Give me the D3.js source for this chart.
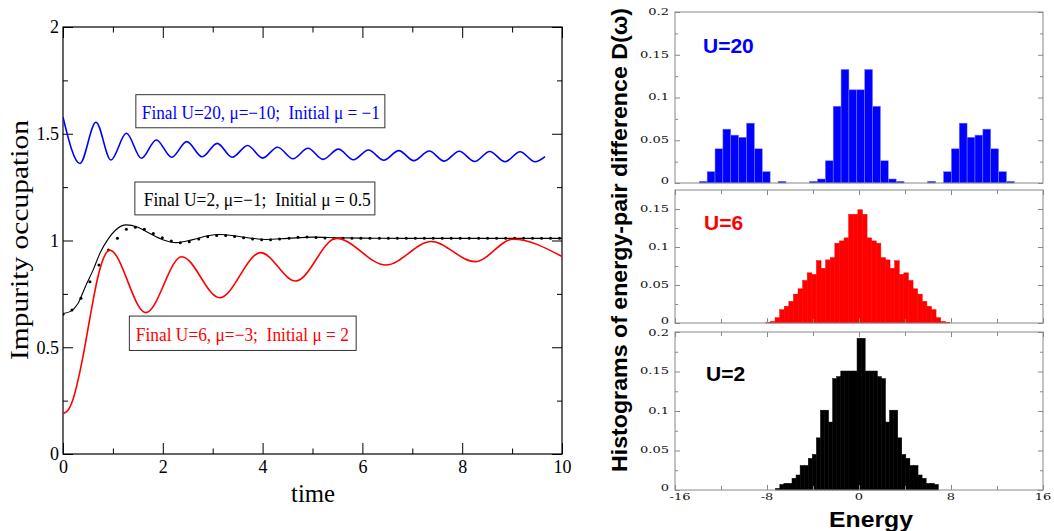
<!DOCTYPE html>
<html><head><meta charset="utf-8">
<script src="https://cdn.jsdelivr.net/npm/d3@7"></script>
<style>body{margin:0;background:#fff} svg{display:block}</style>
</head><body>
<svg id="c" width="1054" height="531"></svg>
<script>
// ================= DATA =================
// Left panel: impurity occupation vs time
const timeTicksMajor = [0, 2, 4, 6, 8, 10];
const timeTicksMinor = [1, 3, 5, 7, 9];
const occTicksMajor = [0, 0.5, 1, 1.5, 2];
const occTicksMinor = [0.25, 0.75, 1.25, 1.75];

const blueCurve = [[0,1.578],[0.34,1.361],[0.66,1.554],[0.96,1.377],[1.27,1.502],[1.57,1.385],[1.87,1.471],[2.18,1.390],[2.48,1.463],[2.79,1.392],[3.09,1.455],[3.39,1.390],[3.70,1.445],[4.00,1.386],[4.30,1.437],[4.61,1.383],[4.91,1.432],[5.21,1.380],[5.52,1.428],[5.82,1.378],[6.12,1.424],[6.43,1.376],[6.73,1.421],[7.03,1.374],[7.34,1.419],[7.64,1.372],[7.94,1.418],[8.25,1.370],[8.55,1.417],[8.86,1.369],[9.16,1.416],[9.46,1.369],[9.66,1.393]];

const blackCurve = [[0,0.658],[0.15,0.668],[0.3,0.705],[0.45,0.785],[0.6,0.86],[0.75,0.945],[0.9,1.005],[1.05,1.048],[1.27,1.073],[1.5,1.062],[1.75,1.032],[2.0,1.004],[2.27,0.990],[2.6,1.004],[2.9,1.022],[3.14,1.028],[3.5,1.020],[3.8,1.010],[4.07,1.005],[4.5,1.010],[5.0,1.016],[5.5,1.013],[6.0,1.011],[7,1.010],[8,1.010],[9,1.010],[10,1.010]];

const dotTimes = [0,0.18,0.36,0.54,0.72,0.91,1.09,1.27,1.45,1.63,1.81,1.99,2.17,2.35,2.53,2.72,2.90,3.08,3.26,3.44,3.62,3.80,3.98,4.16,4.34,4.53,4.71,4.89,5.07,5.25,5.43,5.61,5.79,5.97,6.15,6.34,6.52,6.70,6.88,7.06,7.24,7.42,7.60,7.78,7.96,8.14,8.33,8.51,8.69,8.87,9.05,9.23,9.41,9.59,9.77,9.95];
const dotValues = [0.655,0.674,0.729,0.807,0.885,0.955,1.010,1.053,1.062,1.053,1.033,1.013,0.998,0.990,0.994,1.007,1.018,1.024,1.024,1.019,1.013,1.007,1.004,1.004,1.007,1.011,1.015,1.016,1.014,1.012,1.011,1.011,1.011,1.011,1.011,1.011,1.011,1.011,1.011,1.011,1.011,1.011,1.011,1.011,1.011,1.011,1.011,1.011,1.011,1.011,1.011,1.011,1.011,1.011,1.011,1.011];

const redCurve = [[0,0.19],[0.1,0.205],[0.2,0.255],[0.3,0.345],[0.4,0.456],[0.5,0.585],[0.6,0.715],[0.7,0.83],[0.8,0.91],[0.935,0.955],[1.66,0.662],[2.38,0.924],[3.14,0.732],[3.96,0.943],[4.66,0.810],[5.48,1.010],[6.47,0.885],[7.38,0.995],[8.26,0.901],[9.02,1.006],[10,0.925]];

const legendTexts = ["Final U=20, \u03bc=\u221210;  Initial \u03bc = \u22121",
                     "Final U=2, \u03bc=\u22121;  Initial \u03bc = 0.5",
                     "Final U=6, \u03bc=\u22123;  Initial \u03bc = 2"];

// Right panels: histograms
const energyTicksMajor = [-16, -8, 0, 8, 16];
const energyTicksMinor = [-12, -4, 4, 12];
const histTicksMajor = [0, 0.05, 0.1, 0.15, 0.2];
const histTicksMinor = [0.025, 0.075, 0.125, 0.175];

const blueBinStart = -13.89, blueBinWidth = 0.685;
const blueHist = [0.002,0.0133,0.040,0.063,0.056,0.0535,0.070,0.040,0.0133,0,0.002,0,0,0,0.002,0.0047,0.026,0.0898,0.1328,0.109,0.109,0.1328,0.0898,0.026,0.0047,0.002,0,0,0,0.002,0,0.0133,0.040,0.070,0.0535,0.056,0.063,0.040,0.0133,0.002];

const redBinStart = -8.1, redBinWidth = 0.4;
const redHist = [0.001,0.002,0.007,0.0175,0.022,0.0285,0.038,0.045,0.056,0.066,0.064,0.082,0.072,0.083,0.086,0.105,0.108,0.112,0.143,0.143,0.149,0.143,0.112,0.108,0.105,0.086,0.083,0.072,0.082,0.064,0.066,0.056,0.045,0.038,0.0285,0.022,0.0175,0.007,0.002,0.001];

const blackBinStart = -7.24, blackBinWidth = 0.3535;
const blackHist = [0.002,0.007,0.0084,0.0084,0.0148,0.019,0.031,0.031,0.040,0.045,0.066,0.101,0.101,0.086,0.141,0.1435,0.1506,0.1506,0.1506,0.1506,0.192,0.192,0.1506,0.1506,0.1506,0.1435,0.141,0.086,0.101,0.101,0.066,0.045,0.040,0.031,0.031,0.019,0.0148,0.0084,0.0084,0.007];

// ================= DRAW =================
const svg = d3.select("#c");

// ---------- left panel ----------
const xL = d3.scaleLinear().domain([0, 10]).range([63, 562]);
const yL = d3.scaleLinear().domain([0, 2]).range([454, 27]);
const serif = "'Liberation Serif','Times New Roman',serif";
const sans = "'Liberation Sans',Arial,sans-serif";

const gL = svg.append("g");
gL.append("defs").append("clipPath").attr("id","clipL").append("rect")
  .attr("x", xL(0)).attr("y", yL(2)).attr("width", xL(10)-xL(0)).attr("height", yL(0)-yL(2));

function styleAxis(g, col, fsize, fam) {
  g.select(".domain").remove();
  g.selectAll(".tick line").attr("stroke", col).attr("stroke-width", 1);
  g.selectAll(".tick text").attr("fill", "#000").style("font-family", fam).style("font-size", fsize + "px");
}
styleAxis(gL.append("g").attr("transform", `translate(0,${yL(0)})`)
  .call(d3.axisBottom(xL).tickValues(timeTicksMajor).tickSize(-11).tickSizeOuter(0).tickPadding(6).tickFormat(d3.format("d"))), "#000", 18, serif);
styleAxis(gL.append("g").attr("transform", `translate(0,${yL(0)})`)
  .call(d3.axisBottom(xL).tickValues(timeTicksMinor).tickSize(-5.5).tickSizeOuter(0).tickFormat("")), "#000", 18, serif);
styleAxis(gL.append("g").attr("transform", `translate(0,${yL(2)})`)
  .call(d3.axisTop(xL).tickValues(timeTicksMajor).tickSize(-11).tickSizeOuter(0).tickFormat("")), "#000", 18, serif);
styleAxis(gL.append("g").attr("transform", `translate(0,${yL(2)})`)
  .call(d3.axisTop(xL).tickValues(timeTicksMinor).tickSize(-5.5).tickSizeOuter(0).tickFormat("")), "#000", 18, serif);
styleAxis(gL.append("g").attr("transform", `translate(${xL(0)},0)`)
  .call(d3.axisLeft(yL).tickValues(occTicksMajor).tickSize(-10).tickSizeOuter(0).tickPadding(4).tickFormat(d => String(d))), "#000", 18, serif);
styleAxis(gL.append("g").attr("transform", `translate(${xL(0)},0)`)
  .call(d3.axisLeft(yL).tickValues(occTicksMinor).tickSize(-5).tickSizeOuter(0).tickFormat("")), "#000", 18, serif);
styleAxis(gL.append("g").attr("transform", `translate(${xL(10)},0)`)
  .call(d3.axisRight(yL).tickValues(occTicksMajor).tickSize(-10).tickSizeOuter(0).tickFormat("")), "#000", 18, serif);
styleAxis(gL.append("g").attr("transform", `translate(${xL(10)},0)`)
  .call(d3.axisRight(yL).tickValues(occTicksMinor).tickSize(-5).tickSizeOuter(0).tickFormat("")), "#000", 18, serif);

gL.append("rect").attr("x", xL(0)).attr("y", yL(2)).attr("width", xL(10)-xL(0)).attr("height", yL(0)-yL(2))
  .attr("fill", "none").attr("stroke", "#000").attr("stroke-width", 1.2);

const lineL = d3.line().x(d => xL(d[0])).y(d => yL(d[1])).curve(d3.curveMonotoneX);
const curves = gL.append("g").attr("clip-path", "url(#clipL)");
curves.append("path").datum(blackCurve).attr("d", lineL).attr("fill","none").attr("stroke","#000").attr("stroke-width",1.1);
curves.selectAll("circle.dot").data(dotTimes.map((t,i)=>[t, dotValues[i]])).join("circle")
  .attr("class","dot").attr("cx", d => xL(d[0])).attr("cy", d => yL(d[1])).attr("r", 1.5).attr("fill","#000");
curves.append("path").datum(redCurve).attr("d", lineL).attr("fill","none").attr("stroke","#ff0000").attr("stroke-width",1.6);
curves.append("path").datum(blueCurve).attr("d", lineL).attr("fill","none").attr("stroke","#0000ff").attr("stroke-width",1.6);

// legend boxes (positions in data space)
const legends = [
  {t: legendTexts[0], col: "#0000ff", x0: 1.46, x1: 6.45, y0: 1.683, y1: 1.528, tx: 1.58, ty: 1.568, len: 238},
  {t: legendTexts[1], col: "#000000", x0: 1.44, x1: 6.25, y0: 1.274, y1: 1.12, tx: 1.62, ty: 1.162, len: 227},
  {t: legendTexts[2], col: "#ff0000", x0: 1.33, x1: 5.875, y0: 0.646, y1: 0.485, tx: 1.46, ty: 0.531, len: 213}
];
legends.forEach(l => {
  gL.append("rect").attr("x", xL(l.x0)).attr("y", yL(l.y0)).attr("width", xL(l.x1)-xL(l.x0)).attr("height", yL(l.y1)-yL(l.y0))
    .attr("fill","#fff").attr("stroke","#333").attr("stroke-width",1);
  gL.append("text").attr("x", xL(l.tx)).attr("y", yL(l.ty)).text(l.t)
    .attr("fill", l.col).style("font-family", serif).style("font-size","18px").style("white-space","pre")
    .attr("xml:space","preserve")
    .attr("textLength", l.len).attr("lengthAdjust","spacingAndGlyphs");
});

gL.append("text").attr("x", 313).attr("y", 502).attr("text-anchor","middle").text("time")
  .style("font-family", serif).style("font-size","26px").attr("textLength", 44).attr("lengthAdjust","spacingAndGlyphs");
gL.append("text").attr("transform","translate(28,240) rotate(-90)").attr("text-anchor","middle").text("Impurity occupation")
  .style("font-family", serif).style("font-size","25px").attr("textLength", 240).attr("lengthAdjust","spacingAndGlyphs");

// ---------- right panels ----------
const xR = d3.scaleLinear().domain([-16, 16]).range([675, 1043]);
const panels = [
  {hist: blueHist, start: blueBinStart, w: blueBinWidth, col: "#0000ff", stroke: "#8080ff", top: 12, bot: 183, ymax: 0.2, label: "U=20", lx: 703, ly: 53, xt: false},
  {hist: redHist, start: redBinStart, w: redBinWidth, col: "#ff0000", stroke: "#ff0000", top: 190, bot: 323, ymax: 0.175, label: "U=6", lx: 704, ly: 230, xt: true},
  {hist: blackHist, start: blackBinStart, w: blackBinWidth, col: "#000000", stroke: "#000000", top: 332, bot: 490, ymax: 0.2, label: "U=2", lx: 706, ly: 381, xt: true}
];
const frameCol = "#888";
const tickFont = "'DejaVu Serif',serif";
panels.forEach((p, pi) => {
  const y = d3.scaleLinear().domain([0, p.ymax]).range([p.bot, p.top]);
  const g = svg.append("g");
  // bars
  g.selectAll("rect.bar").data(p.hist.map((v,i)=>({v, i})).filter(d => d.v > 0)).join("rect")
    .attr("class","bar")
    .attr("x", d => xR(p.start + d.i * p.w))
    .attr("width", d => xR(p.start + (d.i+1) * p.w) - xR(p.start + d.i * p.w))
    .attr("y", d => y(d.v)).attr("height", d => y(0) - y(d.v))
    .attr("fill", p.col)
    .attr("stroke", p.stroke).attr("stroke-width", 0.5);
  // y ticks
  const maj = histTicksMajor.filter(v => v <= p.ymax + 1e-9);
  const mnr = histTicksMinor.filter(v => v < p.ymax - 1e-9);
  [[maj,5],[mnr,3]].forEach(([vals, len]) => {
    styleAxis(g.append("g").attr("transform", `translate(${xR(-16)},0)`)
      .call(d3.axisLeft(y).tickValues(vals).tickSize(-len).tickSizeOuter(0).tickFormat("")), frameCol, 11, tickFont);
    styleAxis(g.append("g").attr("transform", `translate(${xR(16)},0)`)
      .call(d3.axisRight(y).tickValues(vals).tickSize(-len).tickSizeOuter(0).tickFormat("")), frameCol, 11, tickFont);
  });
  if (p.xt) {
    [[energyTicksMajor,5],[energyTicksMinor,4]].forEach(([vals, len]) => {
      styleAxis(g.append("g").attr("transform", `translate(0,${p.bot})`)
        .call(d3.axisBottom(xR).tickValues(vals).tickSize(-len).tickSizeOuter(0).tickFormat("")), frameCol, 11, tickFont);
      styleAxis(g.append("g").attr("transform", `translate(0,${p.top})`)
        .call(d3.axisTop(xR).tickValues(vals).tickSize(-len).tickSizeOuter(0).tickFormat("")), frameCol, 11, tickFont);
    });
  }
  // y tick labels (bottom label nudged up, top label nudged down to stay clear of neighbours)
  g.selectAll("text.yl").data(maj).join("text").attr("class","yl")
    .attr("transform", d => `translate(${xR(-16) - 6},${y(d) + (d === 0 ? -2 : 0) + (d === 0.2 && pi === 2 ? 1.5 : 0)}) scale(1.45,1)`)
    .attr("text-anchor","end").attr("dy","0.33em").text(d => String(d))
    .style("font-family", tickFont).style("font-size","9px").attr("fill","#111");
  // frame
  g.append("rect").attr("x", xR(-16)).attr("y", p.top).attr("width", xR(16)-xR(-16)).attr("height", p.bot-p.top)
    .attr("fill","none").attr("stroke", frameCol).attr("stroke-width", 1);
  // label
  g.append("text").attr("x", p.lx).attr("y", p.ly).text(p.label).attr("fill", p.col)
    .style("font-family", sans).style("font-weight","bold").style("font-size","21px");
  if (pi === 2) {
    g.selectAll("text.xl").data(energyTicksMajor).join("text").attr("class","xl")
      .attr("transform", d => `translate(${xR(d) + (d === -16 ? 5 : 0)},${p.bot + 10}) scale(1.45,1)`)
      .attr("text-anchor","middle").text(d => String(d))
      .style("font-family", tickFont).style("font-size","9px").attr("fill","#111");
  }
});

svg.append("text").attr("x", 871).attr("y", 527).attr("text-anchor","middle").text("Energy")
  .style("font-family", sans).style("font-weight","bold").style("font-size","22px")
  .attr("textLength", 84).attr("lengthAdjust","spacingAndGlyphs");
svg.append("text").attr("transform","translate(627,240) rotate(-90)").attr("text-anchor","middle")
  .text("Histograms of energy-pair difference D(\u03c9)")
  .style("font-family", sans).style("font-weight","bold").style("font-size","22px")
  .attr("textLength", 464).attr("lengthAdjust","spacingAndGlyphs");
</script>
</body></html>
